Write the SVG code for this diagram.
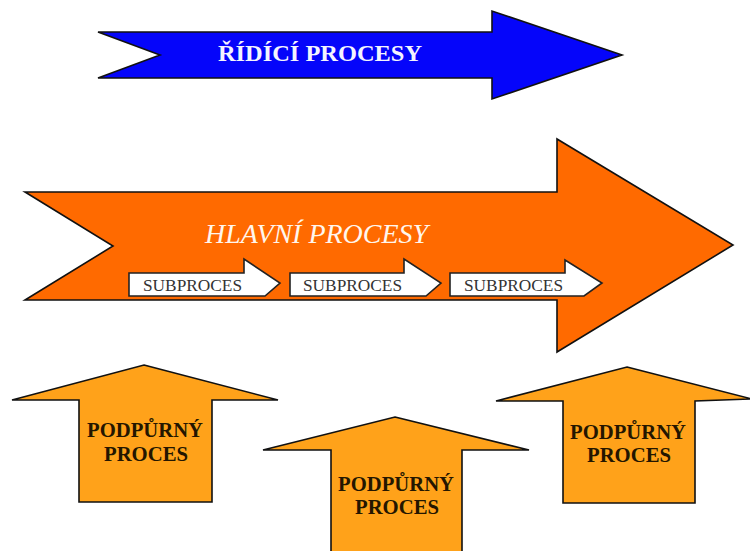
<svg xmlns="http://www.w3.org/2000/svg" width="750" height="551" viewBox="0 0 750 551">
  <style>
    .outline { stroke: #111; stroke-width: 1.6; stroke-linejoin: miter; }
    .blue { fill: #0505fa; }
    .main { fill: #ff6a00; }
    .support { fill: #ffa21a; }
    .sub { fill: #ffffff; stroke: #222; stroke-width: 1.6; }
    .title { font-family: "Liberation Serif", "Times New Roman", serif; font-weight: bold; fill: #f4f4ff; }
    .italic { font-family: "Liberation Serif", "Times New Roman", serif; font-style: italic; fill: #fff6ee; }
    .subtxt { font-family: "Liberation Serif", "Times New Roman", serif; font-size: 16px; fill: #333; }
    .suptxt { font-family: "Liberation Serif", "Times New Roman", serif; font-weight: bold; font-size: 22px; fill: #241600; text-anchor: middle; }
  </style>

  <!-- control processes -->
  <g id="ridici-procesy">
    <polygon class="blue outline" points="98,32 492,32 492,11 622,55 492,99 492,78 98,78 160,55"/>
    <text class="title" x="218" y="61" font-size="24" textLength="204" lengthAdjust="spacingAndGlyphs">ŘÍDÍCÍ PROCESY</text>
  </g>

  <!-- main processes -->
  <g id="hlavni-procesy">
    <polygon class="main outline" points="25,192 557,192 557,139 733,245 557,352 557,300 25,300 113,246"/>
    <text class="italic" x="205" y="243" font-size="27" textLength="223" lengthAdjust="spacingAndGlyphs">HLAVNÍ PROCESY</text>
  </g>

  <!-- subprocesses inside the main arrow -->
  <g id="subproces-1">
    <polygon class="sub" points="129,273 244,273 244,259 280,283 265,296 129,296"/>
    <text class="subtxt" x="143" y="291" textLength="99" lengthAdjust="spacingAndGlyphs">SUBPROCES</text>
  </g>
  <g id="subproces-2">
    <polygon class="sub" points="290,273 404,273 404,259 441,283 426,296 290,296"/>
    <text class="subtxt" x="303" y="291" textLength="99" lengthAdjust="spacingAndGlyphs">SUBPROCES</text>
  </g>
  <g id="subproces-3">
    <polygon class="sub" points="450,273 565,273 565,260 602,283 584,296 450,296"/>
    <text class="subtxt" x="464" y="291" textLength="99" lengthAdjust="spacingAndGlyphs">SUBPROCES</text>
  </g>

  <!-- supporting processes -->
  <g id="podpurny-proces-1">
    <polygon class="support outline" points="144,365 278,400 212,400 212,502 79,502 79,400 12,400"/>
    <text class="suptxt" x="145" y="437" textLength="116" lengthAdjust="spacingAndGlyphs">PODPŮRNÝ</text>
    <text class="suptxt" x="146" y="461" textLength="84" lengthAdjust="spacingAndGlyphs">PROCES</text>
  </g>
  <g id="podpurny-proces-2">
    <polygon class="support outline" points="395,417 529,450 462,450 462,560 331,560 331,450 263,450"/>
    <text class="suptxt" x="396" y="491" textLength="116" lengthAdjust="spacingAndGlyphs">PODPŮRNÝ</text>
    <text class="suptxt" x="397" y="514" textLength="84" lengthAdjust="spacingAndGlyphs">PROCES</text>
  </g>
  <g id="podpurny-proces-3">
    <polygon class="support outline" points="627,367 752,399 695,401 695,503 563,503 563,401 496,401"/>
    <text class="suptxt" x="628" y="439" textLength="116" lengthAdjust="spacingAndGlyphs">PODPŮRNÝ</text>
    <text class="suptxt" x="629" y="462" textLength="84" lengthAdjust="spacingAndGlyphs">PROCES</text>
  </g>

  <!-- no separate connectors: the arrows themselves carry the flow -->
  <g id="connectors"/>
</svg>
